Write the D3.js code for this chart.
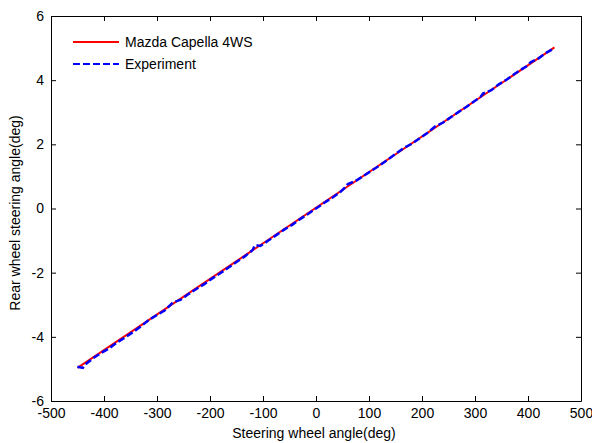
<!DOCTYPE html>
<html>
<head>
<meta charset="utf-8">
<script src="https://cdn.jsdelivr.net/npm/d3@7"></script>
<style>
  body { margin: 0; background: #fff; }
  text { font-family: "Liberation Sans", Arial, sans-serif; }
</style>
</head>
<body>
<div id="grafico"></div>
<script>
// datos del modelo (recta) y del experimento
const modeloX = [-450, 450];
const modeloY = [-4.97, 5.02];

const expX = [-450, -440, -435, -420, -405, -390, -375, -360, -345, -330, -315, -300, -285, -270, -255, -240, -225, -210, -195, -180, -165, -150, -135, -120, -115, -105, -90, -75, -60, -45, -30, -15, 0, 15, 30, 45, 55, 60, 75, 90, 105, 120, 135, 150, 165, 180, 195, 210, 225, 240, 255, 270, 285, 300, 310, 315, 330, 345, 360, 375, 390, 400, 405, 420, 435, 450];
const expY = [-4.93, -4.97, -4.86, -4.66, -4.50, -4.36, -4.17, -4.02, -3.85, -3.67, -3.47, -3.32, -3.17, -2.93, -2.84, -2.66, -2.50, -2.35, -2.17, -2.01, -1.84, -1.67, -1.50, -1.30, -1.14, -1.17, -1.00, -0.83, -0.66, -0.51, -0.33, -0.17, 0.00, 0.17, 0.33, 0.50, 0.66, 0.76, 0.86, 1.02, 1.18, 1.34, 1.52, 1.70, 1.88, 2.01, 2.18, 2.35, 2.56, 2.68, 2.85, 3.02, 3.18, 3.36, 3.47, 3.58, 3.68, 3.87, 4.02, 4.20, 4.36, 4.46, 4.56, 4.68, 4.86, 5.00];

const ticksX = [-500, -400, -300, -200, -100, 0, 100, 200, 300, 400, 500];
const ticksY = [-6, -4, -2, 0, 2, 4, 6];

const leyenda = ["Mazda Capella 4WS", "Experiment"];

const ancho = 592, alto = 443;
const izq = 51, der = 581, arriba = 16, abajo = 401;

const x = d3.scaleLinear().domain([-500, 500]).range([izq, der]);
const y = d3.scaleLinear().domain([-6, 6]).range([abajo, arriba]);

const $svg = d3.select("#grafico")
    .append("svg")
    .attr("width", ancho)
    .attr("height", alto);

const tam = 5;
const formato = d => String(d);
const ejeAbajo = $svg.append("g")
    .attr("transform", `translate(0,${abajo})`)
    .call(d3.axisBottom(x).tickValues(ticksX).tickSizeInner(-tam).tickSizeOuter(0).tickPadding(7).tickFormat(formato));
const ejeArriba = $svg.append("g")
    .attr("transform", `translate(0,${arriba})`)
    .call(d3.axisTop(x).tickValues(ticksX).tickSizeInner(-tam).tickSizeOuter(0).tickFormat(""));
const ejeIzq = $svg.append("g")
    .attr("transform", `translate(${izq},0)`)
    .call(d3.axisLeft(y).tickValues(ticksY).tickSizeInner(-tam).tickSizeOuter(0).tickPadding(7).tickFormat(formato));
const ejeDer = $svg.append("g")
    .attr("transform", `translate(${der},0)`)
    .call(d3.axisRight(y).tickValues(ticksY).tickSizeInner(-tam).tickSizeOuter(0).tickFormat(""));

[ejeAbajo, ejeArriba, ejeIzq, ejeDer].forEach(eje => {
    eje.select(".domain").attr("stroke", "#000");
    eje.selectAll(".tick line").attr("stroke", "#000");
    eje.selectAll(".tick text")
        .attr("fill", "#000")
        .attr("font-size", 14)
        .attr("font-family", "Liberation Sans, Arial, sans-serif");
});

const linea = d3.line().x(d => x(d[0])).y(d => y(d[1]));

$svg.append("path")
    .datum(modeloX.map((v, i) => [v, modeloY[i]]))
    .attr("d", linea)
    .attr("fill", "none")
    .attr("stroke", "#ff0000")
    .attr("stroke-width", 2);

$svg.append("path")
    .datum(expX.map((v, i) => [v, expY[i]]))
    .attr("d", linea)
    .attr("fill", "none")
    .attr("stroke", "#0000ff")
    .attr("stroke-width", 2.5)
    .attr("stroke-dasharray", "7,3");

// leyenda
const colores = ["#ff0000", "#0000ff"];
const guiones = [null, "7,3"];
leyenda.forEach((nombre, i) => {
    const yy = 42 + i * 22;
    $svg.append("line")
        .attr("x1", 73).attr("x2", 119)
        .attr("y1", yy).attr("y2", yy)
        .attr("stroke", colores[i])
        .attr("stroke-width", 2)
        .attr("stroke-dasharray", guiones[i]);
    $svg.append("text")
        .attr("x", 125).attr("y", yy)
        .attr("dy", "0.35em")
        .attr("font-size", 14)
        .text(nombre);
});

$svg.append("text")
    .attr("x", 314)
    .attr("y", 438)
    .attr("text-anchor", "middle")
    .attr("font-size", 14)
    .text("Steering wheel angle(deg)");

$svg.append("text")
    .attr("transform", `translate(20,213) rotate(-90)`)
    .attr("text-anchor", "middle")
    .attr("font-size", 14)
    .text("Rear wheel steering angle(deg)");
</script>
</body>
</html>
